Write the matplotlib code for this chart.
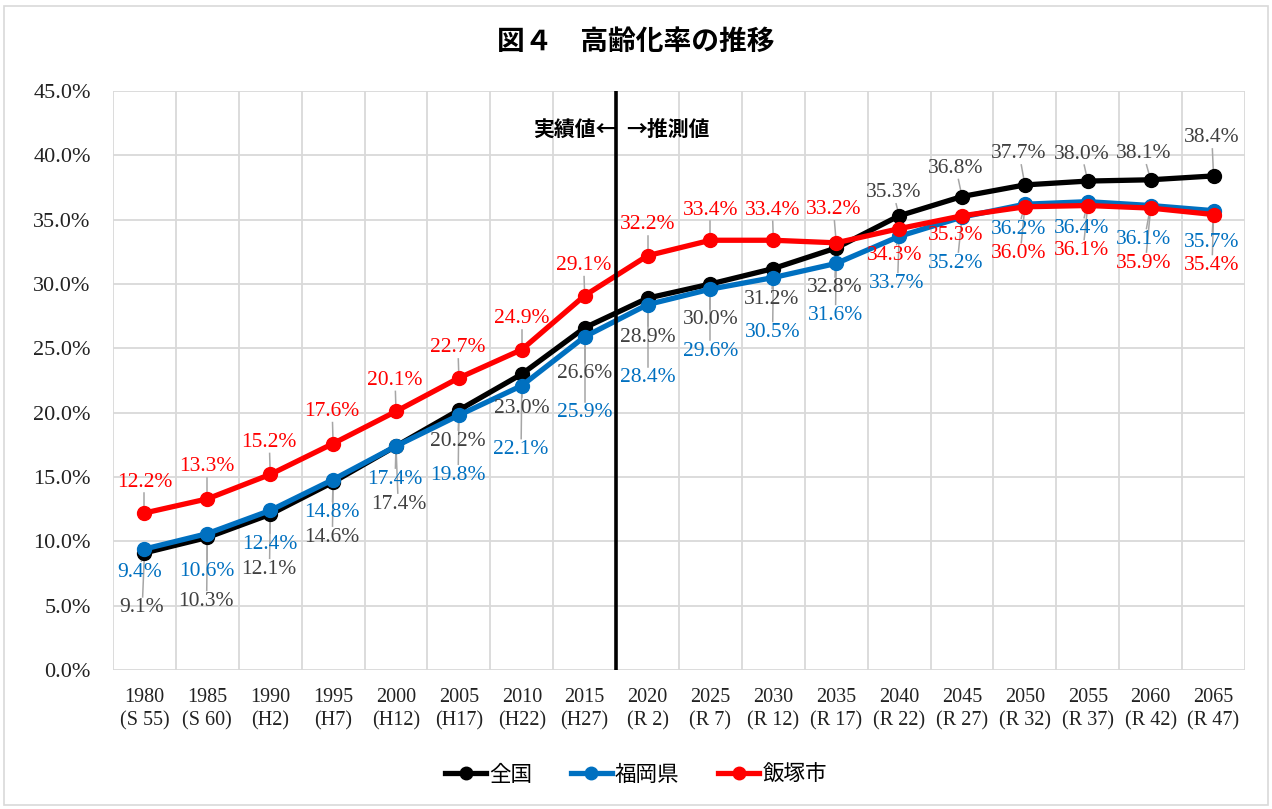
import matplotlib
matplotlib.use("Agg")
import matplotlib.pyplot as plt
from matplotlib.patches import Rectangle
from matplotlib.lines import Line2D

# データ
years = ["1980", "1985", "1990", "1995", "2000", "2005", "2010", "2015", "2020",
         "2025", "2030", "2035", "2040", "2045", "2050", "2055", "2060", "2065"]
eras = ["(S 55)", "(S 60)", "(H2)", "(H7)", "(H12)", "(H17)", "(H22)", "(H27)", "(R 2)",
        "(R 7)", "(R 12)", "(R 17)", "(R 22)", "(R 27)", "(R 32)", "(R 37)", "(R 42)", "(R 47)"]
zenkoku = [9.1, 10.3, 12.1, 14.6, 17.4, 20.2, 23.0, 26.6, 28.9,
           30.0, 31.2, 32.8, 35.3, 36.8, 37.7, 38.0, 38.1, 38.4]
fukuoka = [9.4, 10.6, 12.4, 14.8, 17.4, 19.8, 22.1, 25.9, 28.4,
           29.6, 30.5, 31.6, 33.7, 35.2, 36.2, 36.4, 36.1, 35.7]
iizuka = [12.2, 13.3, 15.2, 17.6, 20.1, 22.7, 24.9, 29.1, 32.2,
          33.4, 33.4, 33.2, 34.3, 35.3, 36.0, 36.1, 35.9, 35.4]

# ラベル位置 (ピクセル, 下向きが正)
off_k = [(-3, 55), (-1, 64), (-1, 55), (-1, 55), (3, 58), (-1, 31), (0, 34), (0, 46), (0, 39),
         (0, 36), (-2, 31), (-2, 40), (-5, -23), (-6, -28), (-6, -31), (-6, -27), (-7, -26), (-2, -38)]
off_b = [(-5, 23), (0, 38), (0, 34), (-1, 33), (-1, 33), (-1, 60), (-1, 64), (0, 76), (0, 73),
         (0, 62), (-1, 55), (-1, 52), (-2, 47), (-6, 46), (-6, 25), (-6, 27), (-7, 34), (-2, 32)]
off_r = [(0, -31), (0, -32), (-1, -32), (-1, -32), (-1, -31), (-1, -30), (0, -31), (-1, -30), (0, -31),
         (0, -30), (-1, -30), (-3, -33), (-4, 27), (-6, 20), (-6, 47), (-6, 45), (-7, 55), (-2, 51)]

W, H = 1272, 809
fig = plt.figure(figsize=(W / 100, H / 100), dpi=100)
fig.patches.append(Rectangle((4 / W, 4 / H), 1 - 8 / W, 1 - 10 / H, transform=fig.transFigure,
                             fill=False, edgecolor="#D9D9D9", linewidth=1.2))

ax = fig.add_axes([113 / W, 1 - 670 / H, 1132 / W, 579 / H])
x = list(range(len(years)))
serif = "Liberation Serif"
jp = "Noto Sans CJK JP"

ax.set_xlim(-0.5, len(years) - 0.5)
ax.set_ylim(0, 45)
for v in range(0, 50, 5):
    ax.axhline(v, color="#D9D9D9", linewidth=1.3, zorder=0)
for i in range(len(years) + 1):
    ax.axvline(i - 0.5, color="#D9D9D9", linewidth=1.3, zorder=0)
for s in ax.spines.values():
    s.set_visible(False)

ax.set_yticks(range(0, 50, 5))
ax.set_yticklabels([f"{v:.1f}%" for v in range(0, 50, 5)], fontfamily=serif, fontsize=16, color="#222222")
ax.set_xticks(x)
ax.set_xticklabels([f"{y}\n{e}" for y, e in zip(years, eras)], fontfamily=serif, fontsize=14.5,
                   color="#222222", linespacing=1.3)
ax.tick_params(axis="y", length=0, pad=16)
ax.tick_params(axis="x", length=0, pad=13)

# 実績値 / 推測値 の境界線
ax.axvline(7.5, color="black", linewidth=2.6, zorder=5)
ax.text(7.5, 42.0, "実績値←", ha="right", va="center", fontfamily=jp, fontsize=15,
        fontweight="bold", transform=ax.transData)
ax.annotate("→推測値", (7.5, 42.0), xytext=(10, 0), textcoords="offset pixels", ha="left", va="center",
            fontfamily=jp, fontsize=15, fontweight="bold")

series = [
    ("全国", zenkoku, "#000000", "#404040", off_k),
    ("福岡県", fukuoka, "#0070C0", "#0070C0", off_b),
    ("飯塚市", iizuka, "#FF0000", "#FF0000", off_r),
]

for name, vals, col, tcol, offs in series:
    ax.plot(x, vals, color=col, linewidth=3.8, marker="o", markersize=10, zorder=3, label=name)

fig.canvas.draw()
for name, vals, col, tcol, offs in series:
    for i, v in enumerate(vals):
        dx, dy = offs[i]
        px, py = ax.transData.transform((i, v))
        # 引き出し線
        if abs(dy) > 20:
            end = py - dy + (11 if dy > 0 else -11)
            p0 = ax.transData.inverted().transform((px, py))
            p1 = ax.transData.inverted().transform((px + dx * 0.6, end))
            ax.plot([p0[0], p1[0]], [p0[1], p1[1]], color="#A6A6A6", linewidth=1.1, zorder=2)
        ax.annotate(f"{v:.1f}%", (i, v), xytext=(dx, -dy), textcoords="offset pixels",
                    ha="center", va="center", fontfamily=serif, fontsize=15.5, color=tcol, zorder=6)

fig.text(0.5, 1 - 42 / H, "図４　高齢化率の推移", ha="center", va="center", fontfamily=jp,
         fontsize=20, fontweight="bold")

handles = [Line2D([], [], color=c, linewidth=3.8, marker="o", markersize=9) for _, _, c, _, _ in series]
fig.legend(handles, [s[0] for s in series], loc="center", bbox_to_anchor=(0.5, 1 - 775 / H),
           ncol=3, frameon=False, prop={"family": jp, "size": 15.5}, handlelength=1.9,
           handletextpad=0.15, columnspacing=1.8)

fig.savefig("out.png", dpi=100)
